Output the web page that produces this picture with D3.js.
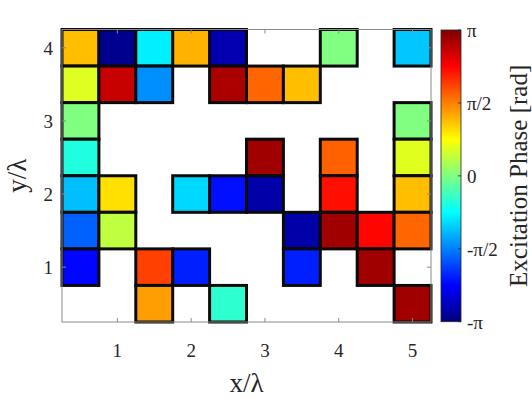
<!DOCTYPE html>
<html>
<head>
<meta charset="utf-8">
<script src="https://cdn.jsdelivr.net/npm/d3@7"></script>
<style>
  body { margin: 0; background: #fff; }
  text { font-family: "Liberation Serif", "Times New Roman", serif; fill: #262626; }
</style>
</head>
<body>
<div id="chart"></div>
<script>
// element positions (in wavelengths) and excitation phase (in units of pi)
const cellX = [0.5, 1.0, 1.5, 2.0, 2.5, 4.0, 5.0,
  0.5, 1.0, 1.5, 2.5, 3.0, 3.5,
  0.5, 5.0,
  0.5, 3.0, 4.0, 5.0,
  0.5, 1.0, 2.0, 2.5, 3.0, 4.0, 5.0,
  0.5, 1.0, 3.5, 4.0, 4.5, 5.0,
  0.5, 1.5, 2.0, 3.5, 4.5,
  1.5, 2.5, 5.0];
const cellY = [4.0, 4.0, 4.0, 4.0, 4.0, 4.0, 4.0,
  3.5, 3.5, 3.5, 3.5, 3.5, 3.5,
  3.0, 3.0,
  2.5, 2.5, 2.5, 2.5,
  2.0, 2.0, 2.0, 2.0, 2.0, 2.0, 2.0,
  1.5, 1.5, 1.5, 1.5, 1.5, 1.5,
  1.0, 1.0, 1.0, 1.0, 1.0,
  0.5, 0.5, 0.5];
const cellPhase = [0.375, -0.97, -0.28, 0.40, -0.905, 0.0, -0.36,
  0.185, 0.86, -0.47, 0.917, 0.55, 0.375,
  0.0, 0.0,
  -0.19, 0.935, 0.56, 0.19,
  -0.375, 0.31, -0.325, -0.72, -0.92, 0.72, 0.375,
  -0.56, 0.125, -0.92, 0.935, 0.74, 0.55,
  -0.74, 0.625, -0.69, -0.69, 0.935,
  0.44, -0.16, 0.935];

const xTicks = [1, 2, 3, 4, 5];
const yTicks = [1, 2, 3, 4];
const cbTicks = [-1, -0.5, 0, 0.5, 1];
const cbTickLabels = ['-π', '-π/2', '0', 'π/2', 'π'];

const cells = cellX.map((x, i) => ({ x: x, y: cellY[i], phase: cellPhase[i] * Math.PI }));

const width = 532, height = 399;
const svg = d3.select('#chart').append('svg')
  .attr('width', width)
  .attr('height', height);

const x = d3.scaleLinear().domain([0.25, 5.25]).range([62, 431]);
const y = d3.scaleLinear().domain([0.25, 4.25]).range([322, 29.5]);

// MATLAB-style jet colormap
const clamp = (v) => Math.max(0, Math.min(1, v));
const jet = function (t) {
  const r = clamp(1.5 - Math.abs(4 * t - 3));
  const g = clamp(1.5 - Math.abs(4 * t - 2));
  const b = clamp(1.5 - Math.abs(4 * t - 1));
  return d3.rgb(r * 255, g * 255, b * 255).formatHex();
};
const color = d3.scaleSequential(jet).domain([-Math.PI, Math.PI]);

// cells
svg.append('g')
  .selectAll('rect')
  .data(cells)
  .enter().append('rect')
  .attr('x', (d) => x(d.x - 0.25))
  .attr('y', (d) => y(d.y + 0.25))
  .attr('width', (d) => x(d.x + 0.25) - x(d.x - 0.25))
  .attr('height', (d) => y(d.y - 0.25) - y(d.y + 0.25))
  .attr('fill', (d) => color(d.phase))
  .attr('stroke', '#0a0a0a')
  .attr('stroke-width', 3);

// axes box (drawn on top)
const box = svg.append('g').attr('fill', 'none').attr('stroke', '#8a8a8a').attr('stroke-width', 1);
box.append('rect')
  .attr('x', x(0.25))
  .attr('y', y(4.25))
  .attr('width', x(5.25) - x(0.25))
  .attr('height', y(0.25) - y(4.25));

const tickLen = 4;
xTicks.forEach(function (t) {
  box.append('line').attr('x1', x(t)).attr('x2', x(t)).attr('y1', y(0.25)).attr('y2', y(0.25) - tickLen);
  box.append('line').attr('x1', x(t)).attr('x2', x(t)).attr('y1', y(4.25)).attr('y2', y(4.25) + tickLen);
});
yTicks.forEach(function (t) {
  box.append('line').attr('x1', x(0.25)).attr('x2', x(0.25) + tickLen).attr('y1', y(t)).attr('y2', y(t));
  box.append('line').attr('x1', x(5.25)).attr('x2', x(5.25) - tickLen).attr('y1', y(t)).attr('y2', y(t));
});

// tick labels
svg.append('g').selectAll('text')
  .data(xTicks)
  .enter().append('text')
  .attr('x', (d) => x(d))
  .attr('y', 357)
  .attr('text-anchor', 'middle')
  .attr('font-size', 19)
  .text((d) => d);

svg.append('g').selectAll('text')
  .data(yTicks)
  .enter().append('text')
  .attr('x', 53)
  .attr('y', (d) => y(d) + 7)
  .attr('text-anchor', 'end')
  .attr('font-size', 19)
  .text((d) => d);

// axis labels
svg.append('text')
  .attr('x', (x(0.25) + x(5.25)) / 2)
  .attr('y', 392)
  .attr('text-anchor', 'middle')
  .attr('font-size', 27)
  .text('x/λ');

svg.append('text')
  .attr('transform', `translate(26,${(y(0.25) + y(4.25)) / 2}) rotate(-90)`)
  .attr('text-anchor', 'middle')
  .attr('font-size', 27)
  .text('y/λ');

// colorbar
const cb = d3.scaleLinear().domain([-Math.PI, Math.PI]).range([321.7, 30]);
const cbX = 441, cbW = 20;
const defs = svg.append('defs');
const grad = defs.append('linearGradient')
  .attr('id', 'jet-grad')
  .attr('x1', 0).attr('y1', 1).attr('x2', 0).attr('y2', 0);
d3.range(0, 1.0001, 1 / 64).forEach(function (t) {
  grad.append('stop')
    .attr('offset', t)
    .attr('stop-color', jet(t));
});
svg.append('rect')
  .attr('x', cbX)
  .attr('y', cb(Math.PI))
  .attr('width', cbW)
  .attr('height', cb(-Math.PI) - cb(Math.PI))
  .attr('fill', 'url(#jet-grad)')
  .attr('stroke', '#262626')
  .attr('stroke-width', 0.8);

cbTicks.forEach(function (t, i) {
  svg.append('line')
    .attr('x1', cbX + cbW).attr('x2', cbX + cbW - 3)
    .attr('y1', cb(t * Math.PI)).attr('y2', cb(t * Math.PI))
    .attr('stroke', '#262626').attr('stroke-width', 0.8);
  svg.append('text')
    .attr('x', 467)
    .attr('y', cb(t * Math.PI) + 7)
    .attr('font-size', 19)
    .text(cbTickLabels[i]);
});

svg.append('text')
  .attr('transform', `translate(527,${(cb(-Math.PI) + cb(Math.PI)) / 2}) rotate(-90)`)
  .attr('text-anchor', 'middle')
  .attr('font-size', 25)
  .text('Excitation Phase [rad]');
</script>
</body>
</html>
